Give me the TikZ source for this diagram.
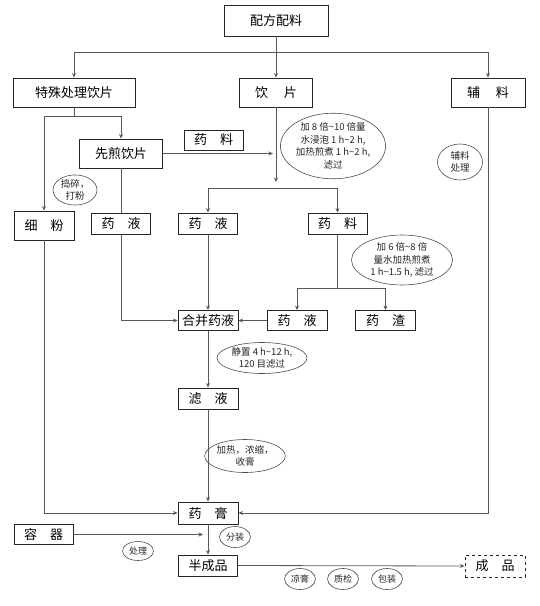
\documentclass[tikz,border=0pt]{standalone}
\usepackage{fontspec}
\setmainfont{Noto Sans CJK SC}
\usetikzlibrary{shapes.geometric,arrows.meta}
\begin{document}
\begin{tikzpicture}[x=1pt,y=-1pt,
  box/.style={draw=black!85, line width=0.9pt, inner sep=0pt, font=\fontsize{13}{13}\selectfont},
  ell/.style={ellipse, draw=black!70, line width=0.6pt, inner sep=0pt, align=center, text=black!85, font=\fontsize{9.5}{12.5}\selectfont},
  sell/.style={ell, minimum width=31pt, minimum height=21pt, font=\fontsize{9}{10}\selectfont},
  ln/.style={draw=black!65, line width=0.8pt},
  arr/.style={ln, -{Stealth[length=4.5pt,width=4pt]}}]
\useasboundingbox (0,0) rectangle (540,606);
% boxes
\node[box, minimum width=104pt, minimum height=31pt] (pf) at (276,20.5) {配方配料};
\node[box, minimum width=122pt, minimum height=29pt] (tsl) at (74,92.5) {特殊处理饮片};
\node[box, minimum width=73pt, minimum height=29pt] (yp) at (276,92.5) {饮\hspace{1.2em}片};
\node[box, minimum width=74pt, minimum height=29pt] (fl) at (488,92.5) {辅\hspace{1.2em}料};
\node[box, minimum width=83pt, minimum height=29pt] (xj) at (121,153.5) {先煎饮片};
\node[box, minimum width=59pt, minimum height=20pt] (yl1) at (213.5,140) {药\hspace{1em}料};
\node[box, minimum width=60pt, minimum height=29pt] (xf) at (44,225.5) {细\hspace{1em}粉};
\node[box, minimum width=59pt, minimum height=21pt] (yyL) at (121,223.5) {药\hspace{1em}液};
\node[box, minimum width=59pt, minimum height=21pt] (yyM) at (208,223.5) {药\hspace{1em}液};
\node[box, minimum width=59pt, minimum height=21pt] (ylR) at (337.5,223.5) {药\hspace{1em}料};
\node[box, minimum width=60pt, minimum height=20pt] (hb) at (208,320.5) {合并药液};
\node[box, minimum width=60pt, minimum height=20pt] (yyBR) at (297,320.5) {药\hspace{1em}液};
\node[box, minimum width=60pt, minimum height=20pt] (yz) at (385.5,320.5) {药\hspace{1em}渣};
\node[box, minimum width=60pt, minimum height=21pt] (ly) at (208,398.5) {滤\hspace{1em}液};
\node[box, minimum width=60pt, minimum height=22pt] (yg) at (208,513) {药\hspace{1em}膏};
\node[box, minimum width=59pt, minimum height=20pt] (rq) at (43.5,534.5) {容\hspace{1em}器};
\node[box, minimum width=59pt, minimum height=21pt] (bcp) at (208,565.5) {半成品};
\node[box, dashed, minimum width=60pt, minimum height=22pt] (cp) at (495,566) {成\hspace{1em}品};
% ellipses
\node[ell, minimum width=103pt, minimum height=57pt] (e1) at (333,146) {加 8 倍\textasciitilde10 倍量\\水浸泡 1 h\textasciitilde2 h,\\加热煎煮 1 h\textasciitilde2 h,\\滤过};
\node[ell, minimum width=101pt, minimum height=50pt] (e2) at (402,260) {加 6 倍\textasciitilde8 倍\\量水加热煎煮\\1 h\textasciitilde1.5 h, 滤过};
\node[ell, minimum width=44pt, minimum height=30pt] (e3) at (75,190) {捣碎，\\打粉};
\node[ell, minimum width=45pt, minimum height=36pt] (e4) at (460,162) {辅料\\处理};
\node[ell, minimum width=90pt, minimum height=31pt] (e5) at (262,358) {静置 4 h\textasciitilde12 h,\\120 目滤过};
\node[ell, minimum width=52pt, minimum height=33pt] (e6) at (245,456) {加热，浓缩，\\收膏};
\node[sell] (e7) at (235,537) {分装};
\node[sell, minimum height=19pt] (e8) at (138,551) {处理};
\node[sell] (e9) at (300,579) {凉膏};
\node[sell] (e10) at (343,579) {质检};
\node[sell] (e11) at (387,579) {包装};
% coordinates
\coordinate (j1) at (276,52);
\coordinate (j2) at (74,116);
\coordinate (a1) at (276,182);
\coordinate (j3) at (276,188);
\coordinate (j4) at (337.5,288);
\coordinate (a2) at (203,534.5);
\coordinate (a3) at (273,153.5);
% connectors
\draw[arr] (pf.south) -- (yp.north);
\draw[arr] (j1) -| (tsl.north);
\draw[arr] (j1) -| (fl.north);
\draw[ln] (tsl.south) -- (j2);
\draw[arr] (j2) -| (xf.north);
\draw[arr] (j2) -| (xj.north);
\draw[ln] (xj.south) -- (yyL.north);
\draw[arr] (xj.east) -- (a3);
\draw[arr] (yp.south) -- (a1);
\draw[arr] (j3) -| (yyM.north);
\draw[arr] (j3) -| (ylR.north);
\draw[ln] (ylR.south) -- (j4);
\draw[arr] (j4) -| (yyBR.north);
\draw[arr] (j4) -| (yz.north);
\draw[arr] (yyBR.west) -- (hb.east);
\draw[arr] (yyL.south) |- (hb.west);
\draw[arr] (yyM.south) -- (hb.north);
\draw[arr] (hb.south) -- (ly.north);
\draw[arr] (ly.south) -- (yg.north);
\draw[arr] (xf.south) |- (yg.west);
\draw[arr] (fl.south) |- (yg.east);
\draw[arr] (rq.east) -- (a2);
\draw[arr] (yg.south) -- (bcp.north);
\draw[arr] (bcp.east) -- (cp.west);
\end{tikzpicture}
\end{document}
